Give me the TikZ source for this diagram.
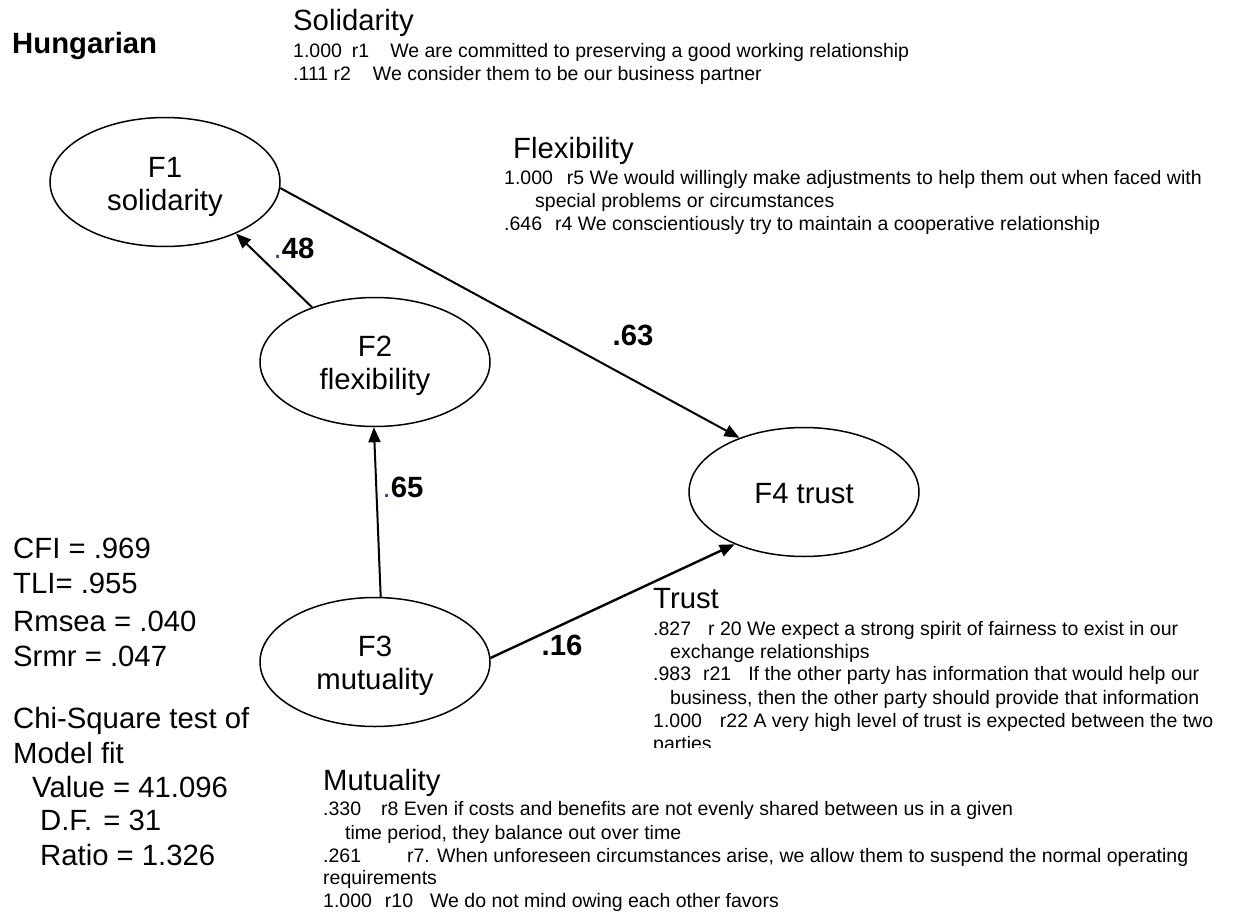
\documentclass[tikz,border=0pt]{standalone}
\usepackage{fontspec}
\setmainfont{Liberation Sans}
\usetikzlibrary{shapes.geometric,arrows.meta}
\definecolor{dotblue}{RGB}{60,60,150}
\begin{document}
\begin{tikzpicture}[x=1pt,y=-1pt,
  bigtxt/.style={font=\fontsize{29.3}{34}\selectfont, inner sep=0pt, anchor=base west},
  boldtxt/.style={font=\fontsize{29.3}{34}\selectfont\bfseries, inner sep=0pt, anchor=base west},
  smtxt/.style={font=\fontsize{19.5}{23}\selectfont, inner sep=0pt, anchor=base west},
  coef/.style={font=\fontsize{29.3}{34}\selectfont\bfseries, inner sep=0pt, anchor=center},
  latent/.style={ellipse, draw, line width=1.5pt, minimum width=230pt, minimum height=129pt,
    inner sep=0pt},
  lattxt/.style={inner sep=0pt, align=center, font=\fontsize{29.3}{33}\selectfont},
  arr/.style={line width=2pt, -{Triangle[length=15pt,width=12pt]}}]
\useasboundingbox (0,0) rectangle (1235,913);

% title
\node[boldtxt] (hung) at (12,53.5) {Hungarian};

% latent factors
\node[latent] (F1) at (165,182) {};
\node[latent] (F2) at (375,362) {};
\node[latent] (F3) at (375,662) {};
\node[latent] (F4) at (804,492) {};
\node[lattxt] (F1t) at ([yshift=-5pt]F1.center) {F1\\solidarity};
\node[lattxt] (F2t) at ([yshift=-4pt]F2.center) {F2\\flexibility};
\node[lattxt] (F3t) at ([yshift=-4pt]F3.center) {F3\\mutuality};
\node[lattxt] (F4t) at ([yshift=-2pt]F4.center) {F4 trust};

% paths
\draw[arr] (F2.139.8) -- (F1.-36);
\draw[arr] (F1.-3) -- (F4.140);
\draw[arr] (F3.85.6) -- (F2.-91.7);
\draw[arr, line width=2.4pt] (F3.2.5) -- (F4.-143);

% coefficients
\node[coef] (c48) at (294,248) {{\mdseries\color{dotblue}.}48};
\node[coef] (c63) at (633,335) {.63};
\node[coef] (c65) at (403,487) {{\mdseries\color{dotblue}.}65};
\node[coef] (c16) at (562,645) {.16};

% Solidarity block
\node[bigtxt] (hs) at (293,30.5) {Solidarity};
\node[smtxt] (s1) at (293,57) {1.000\hspace{10pt}r1\hspace{21pt}We are committed to preserving a good working relationship};
\node[smtxt] (s2) at (293,80) {.111 r2\hspace{22pt}We consider them to be our business partner};

% Flexibility block
\node[bigtxt] (hf) at (513,158.5) {Flexibility};
\node[smtxt] (f1) at (504,184) {1.000\hspace{14pt}r5 We would willingly make adjustments to help them out when faced with};
\node[smtxt] (f2) at (535,207) {special problems or circumstances};
\node[smtxt] (f3) at (504,230) {.646\hspace{13pt}r4 We conscientiously try to maintain a cooperative relationship};

% Trust block
\node[bigtxt] (ht) at (653,608.5) {Trust};
\node[smtxt] (tr1) at (653,635) {.827\hspace{17pt}r 20 We expect a strong spirit of fairness to exist in our};
\node[smtxt] (tr2) at (670,658) {exchange relationships};
\node[smtxt] (tr3) at (653,680) {.983\hspace{12pt}r21\hspace{17pt}If the other party has information that would help our};
\node[smtxt] (tr4) at (670,704) {business, then the other party should provide that information};
\node[smtxt] (tr5) at (653,727) {1.000\hspace{18pt}r22 A very high level of trust is expected between the two};
\begin{scope}
\clip (600,730) rectangle (1235,747);
\node[smtxt] (tr6) at (653,750) {parties};
\end{scope}

% Mutuality block
\node[bigtxt] (hm) at (323,790.5) {Mutuality};
\node[smtxt] (m1) at (323,815) {.330\hspace{20pt}r8 Even if costs and benefits are not evenly shared between us in a given};
\node[smtxt] (m2) at (345,839) {time period, they balance out over time};
\node[smtxt] (m3) at (323,862) {.261\hspace{46pt}r7. When unforeseen circumstances arise, we allow them to suspend the normal operating};
\node[smtxt] (m4) at (323,884) {requirements};
\node[smtxt] (m5) at (323,907) {1.000\hspace{13pt}r10\hspace{17pt}We do not mind owing each other favors};

% fit statistics
\node[bigtxt] (g1) at (13,558.5) {CFI = .969};
\node[bigtxt] (g2) at (13,593.5) {TLI= .955};
\node[bigtxt] (g3) at (13,631) {Rmsea = .040};
\node[bigtxt] (g4) at (13,666) {Srmr = .047};
\node[bigtxt] (g5) at (13,728.5) {Chi-Square test of};
\node[bigtxt] (g6) at (13,763.5) {Model fit};
\node[bigtxt] (g7) at (32,797.5) {Value = 41.096};
\node[bigtxt] (g8) at (40,830.5) {D.F.\hspace{11pt}= 31};
\node[bigtxt] (g9) at (40,865.5) {Ratio = 1.326};
\end{tikzpicture}
\end{document}
